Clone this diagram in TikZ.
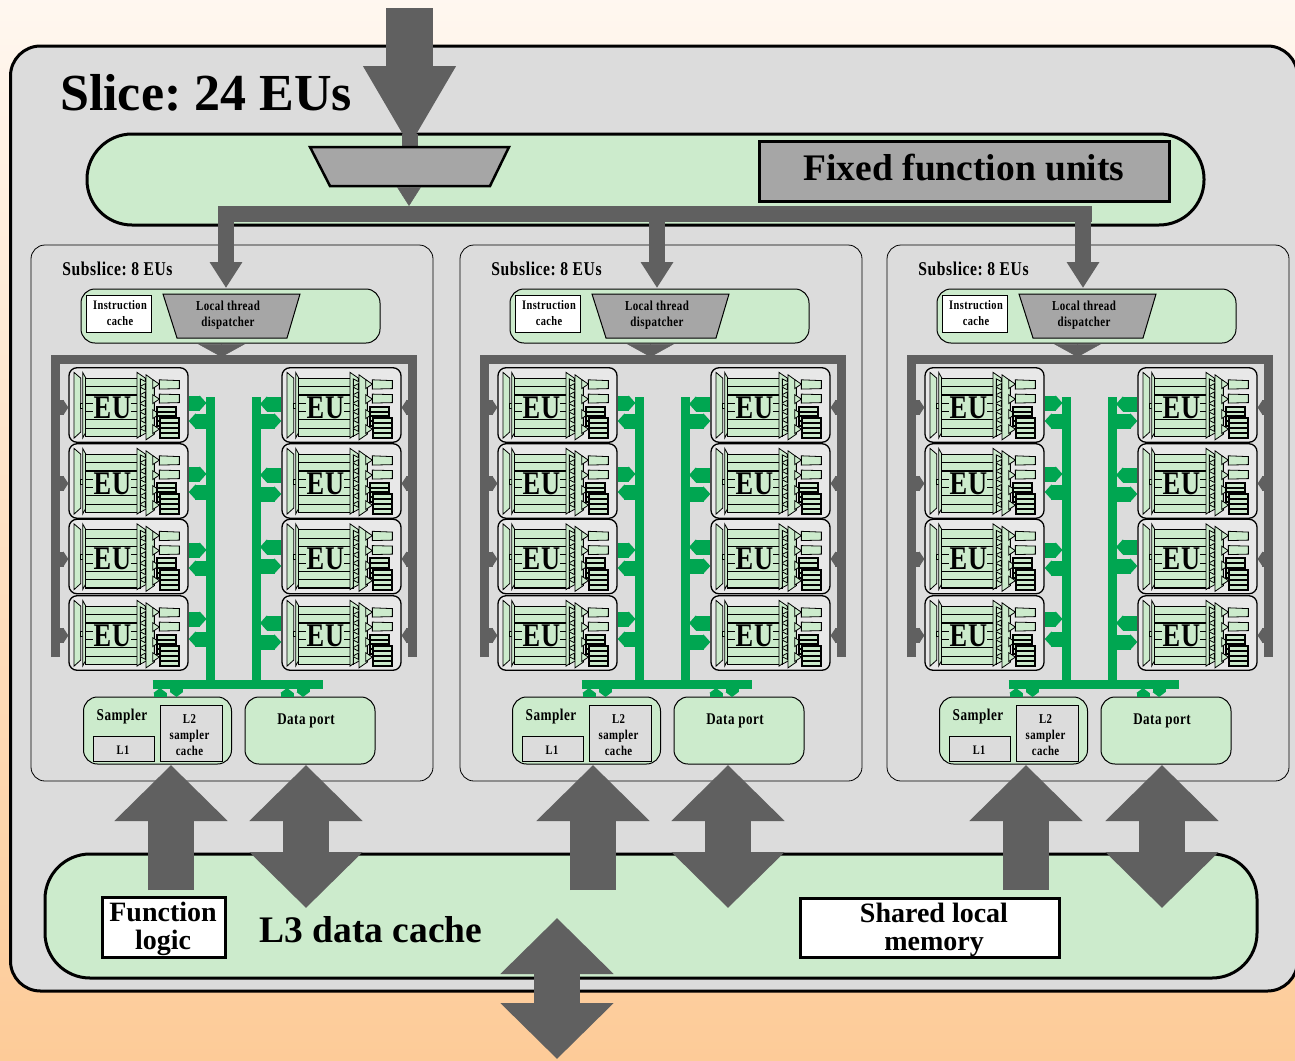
\documentclass[tikz,border=0pt]{standalone}
\usepackage{fontspec}
\setmainfont{Liberation Serif}
\newfontfamily\narrowfont[FakeStretch=0.8,LetterSpace=3,BoldFont={Liberation Serif Bold}]{Liberation Serif}
\usepackage{xcolor}
\usetikzlibrary{arrows.meta,positioning,calc}
\frenchspacing
\definecolor{slicegray}{HTML}{DCDCDC}
\definecolor{eugray}{HTML}{E8E8E8}
\definecolor{unitgreen}{HTML}{CCEBCC}
\definecolor{darkarrow}{HTML}{606060}
\definecolor{dispgray}{HTML}{A6A6A6}
\definecolor{busgreen}{HTML}{00A651}
\newcommand{\fs}[1]{\fontsize{#1}{#1}\selectfont}
\newcommand{\nf}[2]{\fontsize{#1}{#2}\selectfont\narrowfont\bfseries}

\begin{document}
\begin{tikzpicture}[
  x=1pt, y=-1pt,
  box/.style={draw=black, inner sep=0pt, align=center, font=\bfseries},
  slicebox/.style={box, fill=slicegray, line width=3pt, rounded corners=30pt},
  subslicebox/.style={box, fill=slicegray, line width=0.8pt, rounded corners=14pt,
    minimum width=402pt, minimum height=536pt},
  greenbar/.style={box, fill=unitgreen, line width=3pt, rounded corners=45pt},
  greenunit/.style={box, fill=unitgreen, line width=1pt, rounded corners=14pt},
  whitebox/.style={box, fill=white, line width=3pt},
  cachebox/.style={box, fill=slicegray, line width=1pt},
  eubox/.style={box, fill=eugray, line width=1.3pt, rounded corners=8pt,
    minimum width=119pt, minimum height=74.5pt},
  disp/.style={draw=black, fill=dispgray},
  smalllabel/.style={inner sep=0pt, align=center},
  biglabel/.style={inner sep=0pt, align=center, font=\bfseries\fontsize{28}{28}\selectfont},
  bigarrow/.style={darkarrow, line width=46pt, -{Triangle[width=110pt,length=56pt]}},
  bigdouble/.style={darkarrow, line width=46pt,
    {Triangle[width=110pt,length=56pt]}-{Triangle[width=110pt,length=56pt]}},
  stubarrow/.style={darkarrow, line width=16pt, -{Triangle[width=31pt,length=26pt]}},
  graybar/.style={darkarrow, line width=9pt},
  sidearrow/.style={darkarrow, line width=15pt, -{Triangle[width=15pt,length=5pt]}},
  greenbus/.style={busgreen, line width=9pt},
  greentab/.style={busgreen, line width=15pt, -{Triangle[width=15pt,length=7pt]}},
  greenpin/.style={busgreen, line width=13pt, -{Triangle[width=13pt,length=5pt]}},
  eupart/.style={draw=black, fill=unitgreen, line width=0.8pt},
  eurow/.style={draw=black, fill=unitgreen, line width=1.1pt},
  eucore/.pic={
    % --- Input side ---
    \draw[eupart] (5.7,5.3) -- (12.3,11) -- (12.3,65) -- (5.7,71) -- cycle;
    \draw[eupart] (12.3,36) rectangle (15,41);
    \draw[eupart] (14.3,5.3) -- (17.5,11) -- (17.5,65) -- (14.3,71) -- cycle;
    % --- Register rows ---
    \foreach \k in {0,...,6}
      \draw[eurow] (17,11.3+8.3*\k) rectangle ++(54.7,8.3);
    \fill[unitgreen] (25,28.5) rectangle (63,52);
    \node[inner sep=0pt, font=\nf{33}{33}] (-label) at (44,40.5) {EU};
    % --- Output side ---
    \draw[eupart] (68.7,5.3) -- (77,11) -- (77,65) -- (68.7,71) -- cycle;
    \foreach \k in {0,...,6}
      \draw[eupart] (72,11.8+8.3*\k) -- (79,15.5+8.3*\k) -- (72,19.2+8.3*\k) -- cycle;
    \draw[eupart] (77.7,7.7) -- (86,13.7) -- (86,67) -- (77.7,72.7) -- cycle;
    \foreach \k in {17,32,47,62}
      \draw[eupart] (84.3,\k-4.5) -- (91,\k) -- (84.3,\k+4.5) -- cycle;
    \draw[eupart] (91,12.7) -- (111,13.5) -- (111,21.5) -- (91,22) -- cycle;
    \draw[eupart] (91,27) -- (111,27.5) -- (111,35.5) -- (91,36) -- cycle;
    % --- Stacked buffers ---
    \foreach \k in {0,...,3}
      \draw[eurow, line width=2pt] (88.3,39.7+4.8*\k) rectangle ++(19.4,4.8);
    \foreach \k in {0,...,3}
      \draw[eurow, line width=2pt] (91.7,51.3+5*\k) rectangle ++(19.4,5);
  }
]
\useasboundingbox (0,0) rectangle (1295,1060);
\shade[top color=white!90!orange!60, bottom color={rgb,255:red,253;green,203;blue,152}]
  (0,0) rectangle (1295,1060);

% --- Slice ---
\node[slicebox, minimum width=1287pt, minimum height=945pt] (slice) at (654,518.5) {};
\node[inner sep=0pt, font=\bfseries\fs{52}] (slicetitle) at (206,93) {Slice: 24 EUs};

% --- Fixed function bar ---
\node[greenbar, minimum width=1117pt, minimum height=91pt] (fixedbar) at (645.5,179.5) {};
\node[box, fill=dispgray, line width=3pt, minimum width=410pt, minimum height=60pt] (fixedunits) at (964,171) {};
\node[inner sep=0pt, font=\bfseries\fs{37.5}] (fixedtext) at (964,168) {Fixed function units};

\coordinate (input) at (409.5,8);
\coordinate (slicetip) at (409.5,147);
\draw[darkarrow, line width=47pt, -{Triangle[width=87pt,length=81pt]}]
  (input) -- (slicetip);
\draw[darkarrow, line width=16pt] (409.5,134) -- (slicetip);
\draw[disp, line width=2.5pt] (310,147) -- (509,147) -- (490,186) -- (330,186) -- cycle;
\coordinate (buswest) at (218,214);
\coordinate (buseast) at (1092,214);
\draw[darkarrow, line width=16pt] (buswest) -- (buseast);
\draw[darkarrow, line width=0.5pt, -{Triangle[width=24pt,length=19pt]}]
  (409,187) -- (409,206);

% --- Subslices ---
\foreach \dx/\s/\stub in {0/a/226,429/b/228,856/c/227}{
\begin{scope}[xshift=\dx pt]
  \node[subslicebox] (sub\s) at (232,513) {};
  \node[smalllabel, font=\nf{19.5}{19}] (subtitle\s) at (117.5,269) {Subslice: 8 EUs};

  % --- Dispatcher panel ---
  \node[greenunit, minimum width=299pt, minimum height=54pt] (panel\s) at (230.5,316) {};
  \node[box, fill=white, line width=1pt, minimum width=65pt, minimum height=37pt] (icache\s) at (118.5,313.5) {};
  \node[smalllabel, font=\nf{13}{16}] (icachetext\s) at (120,313) {Instruction\\cache};
  \draw[disp, line width=1pt] (163,294) -- (300,294) -- (287,338) -- (177,338) -- cycle;
  \node[smalllabel, font=\nf{13.7}{16}] (ltdtext\s) at (228,315) {Local thread\\dispatcher};
  \draw[stubarrow] (\stub,222) -- (\stub,288);
  \draw[darkarrow, line width=0.5pt, -{Triangle[width=47pt,length=13pt]}]
    (221.5,343.5) -- (221.5,357);

  % --- Gray instruction bar ---
  \coordinate (barl\s) at (55.5,657);
  \coordinate (barr\s) at (412.5,657);
  \draw[graybar] (barl\s) -- (55.5,359.5) -- (412.5,359.5) -- (barr\s);

  % --- EU columns ---
  \coordinate (busl\s) at (210.5,397);
  \coordinate (busr\s) at (256,397);
  \coordinate (hbusw\s) at (152.5,684);
  \coordinate (hbuse\s) at (322.5,684);
  \foreach \r/\y in {1/405,2/481,3/556.5,4/633}{
    \node[eubox] (eu\s l\r) at (128.5,\y) {};
    \node[eubox] (eu\s r\r) at (341.5,\y) {};
    \pic (core\s l\r) at (eu\s l\r.north west) {eucore};
    \pic (core\s r\r) at (eu\s r\r.north west) {eucore};
    \coordinate (tipl\s\r) at ($(eu\s l\r.west)+(0,2.5)$);
    \coordinate (tipr\s\r) at ($(eu\s r\r.east)+(0,2.5)$);
    \draw[sidearrow, shorten <=4pt] (barl\s |- tipl\s\r) -- (tipl\s\r);
    \draw[sidearrow, shorten <=4pt] (barr\s |- tipr\s\r) -- (tipr\s\r);
  }
  % --- Green bus ---
  \draw[greenbus] (busl\s) -- (busl\s |- hbusw\s);
  \draw[greenbus] (busr\s) -- (busr\s |- hbusw\s);
  \draw[greenbus] (hbusw\s) -- (hbuse\s);
  \foreach \r/\ya/\yb in {1/403/421,2/474/492,3/550/568,4/619/639}{
    \draw[greentab, shorten >=4pt] (eu\s l\r.east |- 0,\ya) -- (busl\s |- 0,\ya);
    \draw[greentab, shorten <=4pt] (busl\s |- 0,\yb) -- (eu\s l\r.east |- 0,\yb);
  }
  \foreach \r/\ya/\yb in {1/404/421,2/475/494,3/547/566,4/623/642}{
    \draw[greentab, shorten >=4pt] (eu\s r\r.west |- 0,\ya) -- (busr\s |- 0,\ya);
    \draw[greentab, shorten <=4pt] (busr\s |- 0,\yb) -- (eu\s r\r.west |- 0,\yb);
  }

  % --- Sampler and data port ---
  \node[greenunit, minimum width=148pt, minimum height=67pt] (sampler\s) at (157.5,730.5) {};
  \node[smalllabel, font=\nf{16.5}{16}] (samplertext\s) at (122,717) {Sampler};
  \node[cachebox, minimum width=61pt, minimum height=25pt] (lone\s) at (123.5,748.5) {};
  \node[smalllabel, font=\nf{13}{14}] (lonetext\s) at (123,750) {L1};
  \node[cachebox, minimum width=62pt, minimum height=56pt] (ltwo\s) at (191,733) {};
  \node[smalllabel, font=\nf{13.5}{16}] (ltwotext\s) at (189.5,735) {L2\\sampler\\cache};
  \node[greenunit, minimum width=130pt, minimum height=67pt] (dataport\s) at (310,730.5) {};
  \node[smalllabel, font=\nf{16.3}{16}] (porttext\s) at (306,721) {Data port};
  \foreach \x in {160,287}
    \draw[greenpin] (\x,697) -- (\x,688);
  \foreach \x in {176.5,303}
    \draw[greenpin] (\x,688) -- (\x,697);
\end{scope}
}

% --- L3 data cache ---
\node[greenbar, minimum width=1212pt, minimum height=124pt] (lthree) at (651,916) {};
\node[whitebox, minimum width=123pt, minimum height=60pt] (funclogic) at (163.5,927) {};
\node[biglabel] (functext) at (163,929) {Function\\logic};
\node[inner sep=0pt, font=\bfseries\fs{37.5}] (lthreetext) at (371,930) {L3 data cache};
\node[whitebox, minimum width=259pt, minimum height=59pt] (sharedmem) at (929.5,927.5) {};
\node[biglabel] (sharedtext) at (934,929.5) {Shared local\\memory};

% --- Big arrows ---
\foreach \s/\xs/\xd in {a/171/306,b/593/728,c/1026/1162}{
  \coordinate (samplerfoot\s) at (\xs,890);
  \coordinate (portfoot\s) at (\xd,908);
  \draw[bigarrow] (samplerfoot\s) -- (\xs,765);
  \draw[bigdouble] (portfoot\s) -- (\xd,765);
}
\coordinate (output) at (557,1059);
\draw[bigdouble] (output) -- (557,918);
\end{tikzpicture}
\end{document}
